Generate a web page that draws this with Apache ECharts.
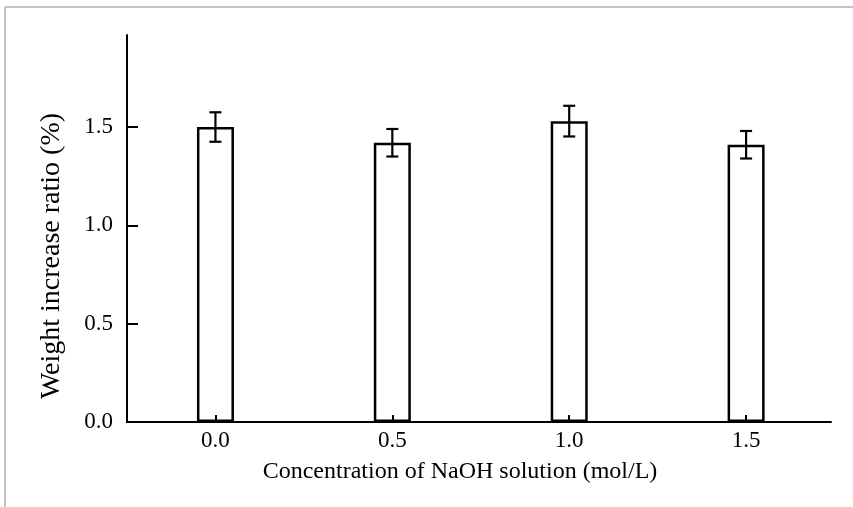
<!DOCTYPE html>
<html>
<head>
<meta charset="utf-8">
<script src="https://cdn.jsdelivr.net/npm/echarts@6/dist/echarts.min.js"></script>
<style>
  html, body { margin: 0; padding: 0; background: #fff; }
  #chart { width: 853px; height: 507px; }
</style>
</head>
<body>
<div id="chart"></div>
<script>
// NaOH concentrations (mol/L) and measured weight increase (%)
const concentrations = [0.0, 0.5, 1.0, 1.5];
const weightIncrease = [1.50, 1.42, 1.53, 1.41];
const errorMargin = [0.075, 0.07, 0.078, 0.07];
const yTicks = [0.0, 0.5, 1.0, 1.5];

const FONT = 'Liberation Serif';

const barData = concentrations.map((c, i) => [c, weightIncrease[i]]);
const errData = concentrations.map((c, i) => [c, weightIncrease[i] - errorMargin[i], weightIncrease[i] + errorMargin[i]]);

const chart = echarts.init(document.getElementById('chart'));
chart.setOption({
  backgroundColor: '#fff',
  animation: false,
  grid: { left: 127, right: 22, top: 35, bottom: 85 },
  xAxis: {
    type: 'value',
    min: -0.25,
    max: 1.74,
    z: 5,
    splitLine: { show: false },
    axisLine: { show: true, lineStyle: { color: '#000', width: 2 } },
    axisTick: { show: true, inside: true, length: 7, customValues: concentrations, lineStyle: { color: '#000', width: 2 } },
    axisLabel: {
      customValues: concentrations,
      formatter: v => v.toFixed(1),
      fontFamily: FONT, fontSize: 23, color: '#000', margin: 7
    }
  },
  yAxis: {
    type: 'value',
    min: 0,
    max: 1.968,
    z: 5,
    splitLine: { show: false },
    axisLine: { show: true, onZero: false, lineStyle: { color: '#000', width: 2 } },
    axisTick: { show: true, inside: true, length: 11, customValues: yTicks, lineStyle: { color: '#000', width: 2 } },
    axisLabel: {
      customValues: yTicks,
      formatter: v => v.toFixed(1),
      fontFamily: FONT, fontSize: 23, color: '#000', margin: 14
    }
  },
  graphic: [
    { type: 'line', shape: { x1: 5, y1: 7, x2: 853, y2: 7 }, style: { stroke: '#b0b0b0', lineWidth: 1.5 }, silent: true },
    { type: 'line', shape: { x1: 5, y1: 7, x2: 5, y2: 507 }, style: { stroke: '#b0b0b0', lineWidth: 1.5 }, silent: true },
    {
      type: 'text', x: 460, y: 472,
      style: { text: 'Concentration of NaOH solution (mol/L)', font: '24px "' + FONT + '"', fill: '#000', align: 'center', verticalAlign: 'middle' }
    },
    {
      type: 'text', x: 52, y: 256, rotation: Math.PI / 2,
      style: { text: 'Weight increase ratio (%)', font: '28px "' + FONT + '"', fill: '#000', align: 'center', verticalAlign: 'middle' }
    }
  ],
  series: [
    {
      type: 'bar',
      data: barData,
      barWidth: 37,
      itemStyle: { color: 'rgba(255,255,255,0)', borderColor: '#000', borderWidth: 2.5 },
      z: 2
    },
    {
      type: 'custom',
      data: errData,
      z: 3,
      renderItem: (params, api) => {
        const x = api.value(0);
        const lo = api.coord([x, api.value(1)]);
        const hi = api.coord([x, api.value(2)]);
        const cap = 6;
        const style = { stroke: '#000', lineWidth: 2.2, fill: null };
        return {
          type: 'group',
          children: [
            { type: 'line', shape: { x1: lo[0], y1: lo[1], x2: hi[0], y2: hi[1] }, style },
            { type: 'line', shape: { x1: hi[0] - cap, y1: hi[1], x2: hi[0] + cap, y2: hi[1] }, style },
            { type: 'line', shape: { x1: lo[0] - cap, y1: lo[1], x2: lo[0] + cap, y2: lo[1] }, style }
          ]
        };
      }
    }
  ]
});
</script>
</body>
</html>
